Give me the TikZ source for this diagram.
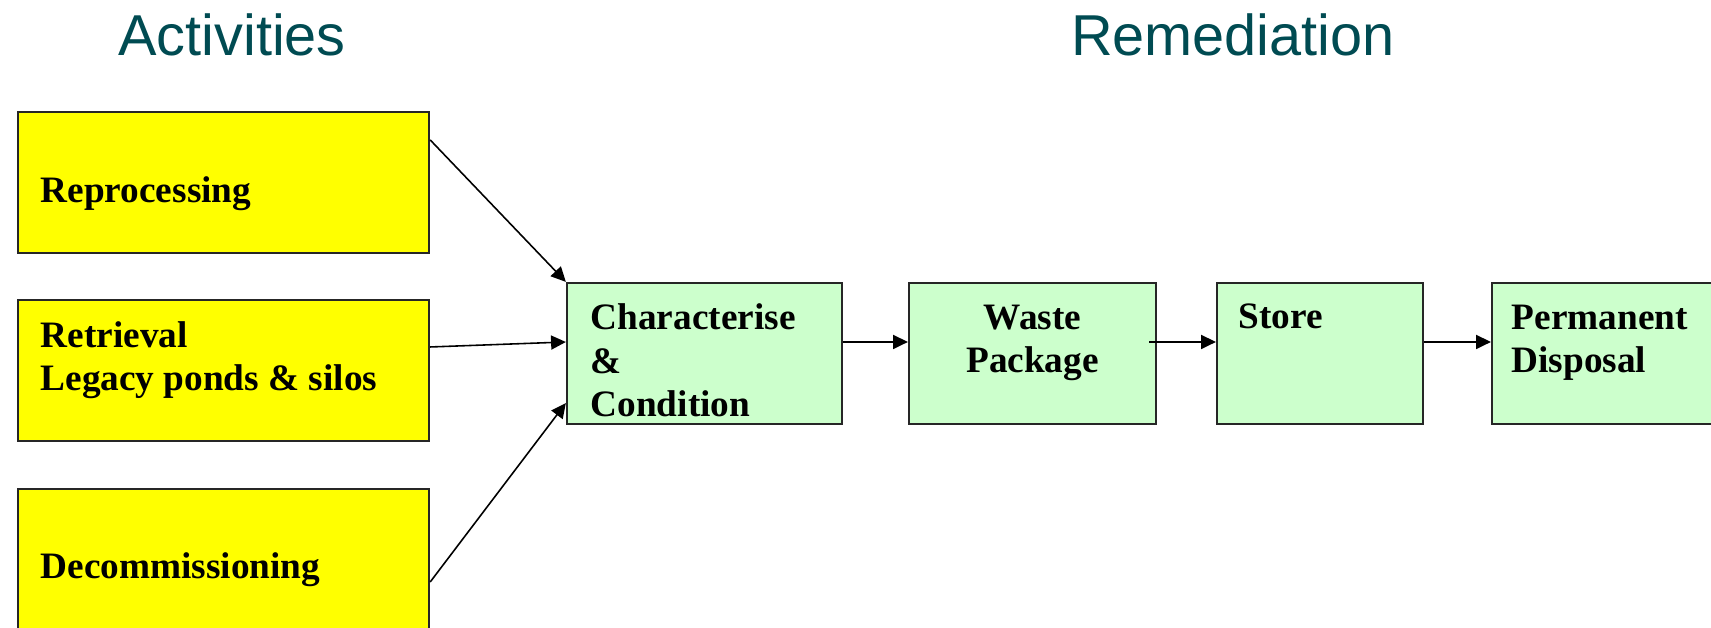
\documentclass[tikz,border=0pt]{standalone}
\usepackage{fontspec}
\setmainfont{Liberation Serif}
\newfontfamily\headingfont{Liberation Sans}
\usetikzlibrary{arrows.meta}
\definecolor{headteal}{HTML}{004B52}
\definecolor{actyellow}{HTML}{FFFF00}
\definecolor{stagegreen}{HTML}{CCFFCC}

\begin{document}
\begin{tikzpicture}[
    x=0.01cm, y=-0.01cm,
    heading/.style={font=\headingfont\fontsize{16.4}{19}\selectfont, text=headteal, anchor=base, inner sep=0pt},
    activity/.style={rectangle, draw=black!85, line width=0.6pt, fill=actyellow, minimum width=4.11cm, minimum height=1.41cm, inner sep=0pt},
    stage/.style={rectangle, draw=black!85, line width=0.6pt, fill=stagegreen, minimum height=1.41cm, inner sep=0pt},
    boxtext/.style={font=\bfseries\fontsize{10.6}{12.5}\selectfont, align=left, inner sep=0pt, anchor=base west},
    flow/.style={-{Triangle[length=4.2pt, width=4pt]}, line width=0.45pt}
]
\useasboundingbox (0,0) rectangle (1711,628);

% Headings
\node[heading] (acthead) at (232, 56) {Activities};
\node[heading] (remhead) at (1233, 56) {Remediation};

% Activities (left column); multi-line texts sit on their last baseline
\node[activity] (reproc) at (223.5, 182.5) {};
\node[activity] (retr) at (223.5, 370.5) {};
\node[activity] (decom) at (223.5, 559.5) {};
\node[boxtext] (reproctext) at (40, 203) {Reprocessing};
\node[boxtext] (retrtext) at (40, 391) {Retrieval\\Legacy ponds \& silos};
\node[boxtext] (decomtext) at (40, 579) {Decommissioning};

% Remediation stages
\node[stage, minimum width=2.75cm] (char) at (704.5, 353.5) {};
\node[stage, minimum width=2.47cm] (waste) at (1032.5, 353.5) {};
\node[stage, minimum width=2.06cm] (store) at (1320, 353.5) {};
\node[stage, minimum width=2.26cm] (disp) at (1605, 353.5) {};
\node[boxtext] (chartext) at (590, 417) {Characterise\\\&\\Condition};
\node[boxtext, align=center, anchor=base] (wastetext) at (1032.5, 373) {Waste\\Package};
\node[boxtext] (storetext) at (1238, 329) {Store};
\node[boxtext] (disptext) at (1511, 373) {Permanent\\Disposal};

% Activities feed into characterisation
\draw[flow] ([yshift=-0.29cm]reproc.north east) -- (char.north west);
\draw[flow] ([yshift=0.235cm]retr.east) -- ([yshift=0.115cm]char.west);
\draw[flow] ([yshift=-0.225cm]decom.east) -- ([yshift=0.22cm]char.south west);

% Remediation chain
\draw[flow] ([yshift=0.115cm]char.east) -- ([yshift=0.115cm]waste.west);
\draw[flow] ([xshift=-0.08cm, yshift=0.115cm]waste.east) -- ([yshift=0.115cm]store.west);
\draw[flow] ([yshift=0.115cm]store.east) -- ([yshift=0.115cm]disp.west);

\end{tikzpicture}
\end{document}
